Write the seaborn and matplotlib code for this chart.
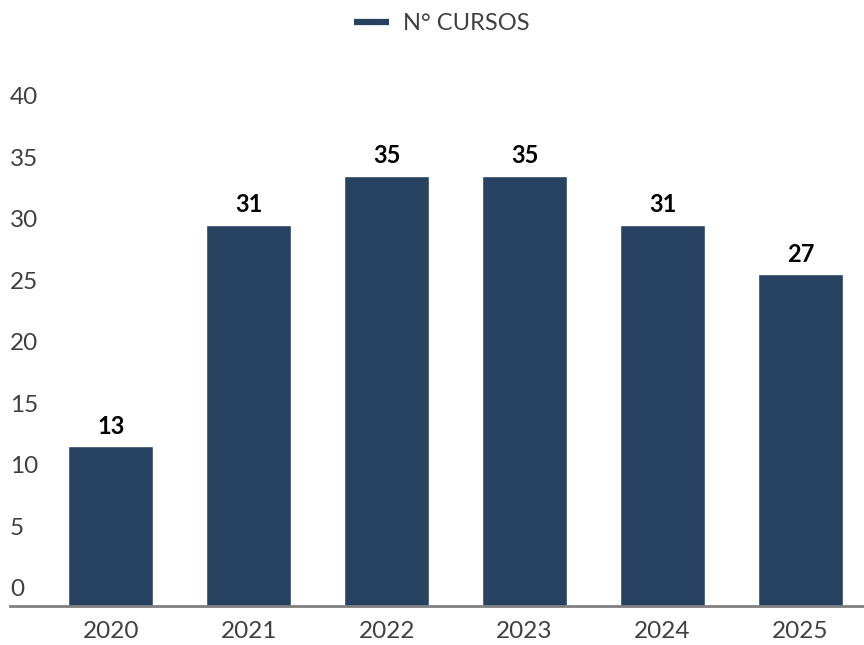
import matplotlib
matplotlib.use("Agg")
import matplotlib.pyplot as plt
import matplotlib.transforms as mtransforms
from matplotlib.lines import Line2D
import pandas as pd
import seaborn as sns

years = ["2020", "2021", "2022", "2023", "2024", "2025"]
cursos = [13, 31, 35, 35, 31, 27]
yticks = [0, 5, 10, 15, 20, 25, 30, 35, 40]
series_name = "N° CURSOS"

bar_color = "#264260"
text_color = "#404040"

sns.set_theme(style="white")
plt.rcParams["font.family"] = ["Lato", "DejaVu Sans"]

df = pd.DataFrame({"year": years, "cursos": cursos})

fig = plt.figure(figsize=(8.64, 6.45), dpi=100)
ax = fig.add_axes([10 / 864, 1 - 606 / 645, 1 - 10 / 864, (606 - 114) / 645])

sns.barplot(data=df, x="year", y="cursos", color=bar_color, saturation=1,
            width=0.62, ax=ax)

ax.set_ylim(0, 40)
ax.set_xlim(-0.73, 5.46)
ax.set_xlabel("")
ax.set_ylabel("")

for c in ax.containers:
    ax.bar_label(c, labels=[str(v) for v in cursos], padding=6,
                 fontsize=17, fontweight="bold", color="black")

# y tick labels sit left-aligned, a bit above their value
ax.set_yticks(yticks)
ax.set_yticklabels([])
ax.tick_params(axis="y", length=0)
trans = mtransforms.blended_transform_factory(ax.transAxes, ax.transData)
trans = trans + mtransforms.ScaledTranslation(0, 4 / 72, fig.dpi_scale_trans)
for t in yticks:
    ax.text(0, t, str(t), transform=trans, ha="left", va="bottom",
            fontsize=17.5, color=text_color)

ax.tick_params(axis="x", length=0, pad=11, labelsize=17.5, colors=text_color)

for s in ["top", "right", "left"]:
    ax.spines[s].set_visible(False)
ax.spines["bottom"].set_color("#808080")
ax.spines["bottom"].set_linewidth(2)

handle = Line2D([0], [0], color=bar_color, linewidth=4.5, solid_capstyle="butt")
fig.legend([handle], [series_name], loc="center", bbox_to_anchor=(442 / 864, 1 - 24 / 645),
           frameon=False, fontsize=17, labelcolor=text_color, handlelength=1.5,
           handletextpad=0.6)

fig.savefig("out.png", dpi=100)
